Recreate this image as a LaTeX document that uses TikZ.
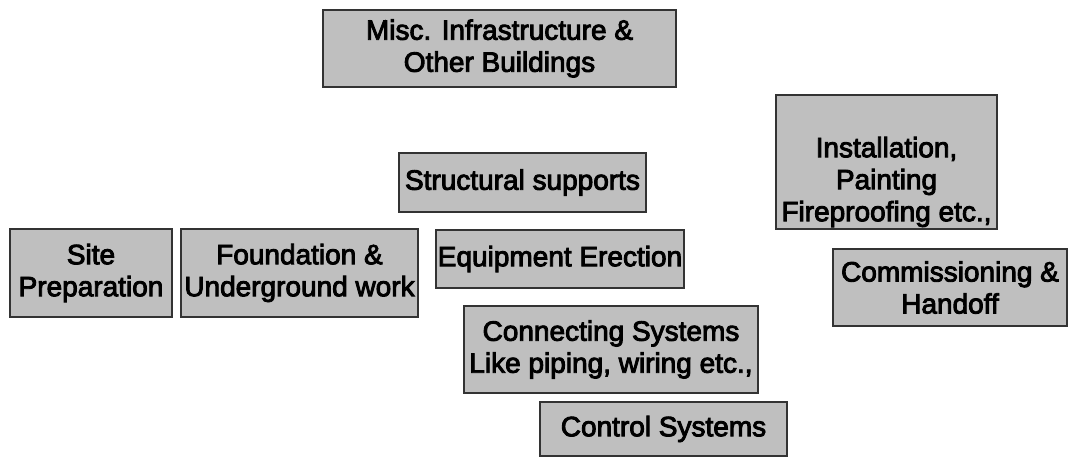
\documentclass[tikz,border=0pt]{standalone}
\usepackage{fontspec}
\newfontfamily\boxfont{Liberation Sans}
% heavier strokes for the box labels: fill and outline the glyphs
\newcommand\heavytext[1]{\special{pdf:literal direct 0 G 2 Tr 0.9 w}#1\special{pdf:literal direct 0 Tr}}
\begin{document}
\begin{tikzpicture}[x=1pt,y=-1pt,
  stage/.style={draw=black!80, line width=1.8pt, fill=black!25,
    rectangle, inner sep=0pt, align=center,
    font=\boxfont\fontsize{28}{32}\selectfont},
  stagetext/.style={inner sep=0pt, align=center,
    font=\boxfont\fontsize{28}{32}\selectfont}]
\useasboundingbox (0,0) rectangle (1070,458);

% top row of support activities
\node[stage, minimum width=353pt, minimum height=77pt] (misc) at (499.5,48.5)
  {\heavytext{Misc. Infrastructure \&\\Other Buildings}};
\node[stage, minimum width=247pt, minimum height=59pt] (struct) at (522.5,182.5)
  {\heavytext{Structural supports}};

% finishing activities on the right
\node[stage, minimum width=221pt, minimum height=134pt] (install) at (886.5,162) {};
\node[stagetext] (installT) at (886.5,182)
  {\heavytext{Installation,\\Painting\\Fireproofing etc.,}};
\node[stage, minimum width=234pt, minimum height=77pt] (comm) at (950,287.5)
  {\heavytext{Commissioning \&\\Handoff}};

% main sequence
\node[stage, minimum width=162pt, minimum height=88pt] (site) at (91,273)
  {\heavytext{Site\\Preparation}};
\node[stage, minimum width=237pt, minimum height=88pt] (found) at (299.5,273)
  {\heavytext{Foundation \&\\Underground work}};
\node[stage, minimum width=248pt, minimum height=58pt] (equip) at (560,259)
  {\heavytext{Equipment Erection}};
\node[stage, minimum width=294pt, minimum height=87pt] (conn) at (611,349.5)
  {\heavytext{Connecting Systems\\Like piping, wiring etc.,}};
\node[stage, minimum width=247pt, minimum height=54pt] (ctrl) at (663.5,429)
  {\heavytext{Control Systems}};
\end{tikzpicture}
\end{document}
